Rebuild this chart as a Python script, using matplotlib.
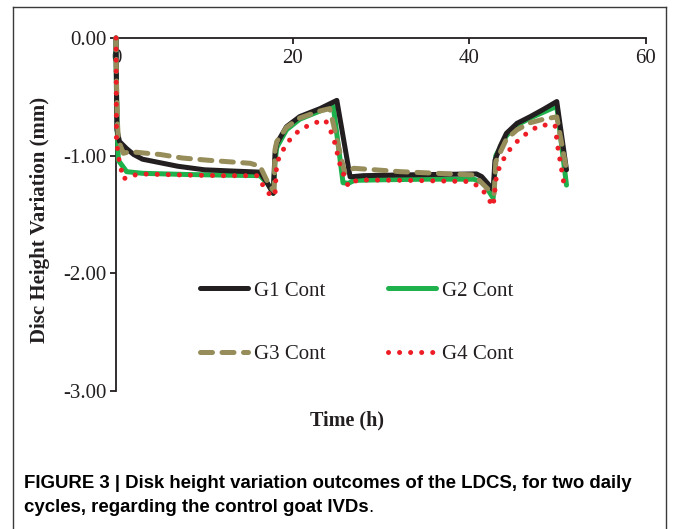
import matplotlib
matplotlib.use('Agg')
import matplotlib.pyplot as plt
from matplotlib.lines import Line2D

# ---------------- data ----------------
g1_t = [0, 0.05, 0.1, 0.4, 1.2, 2, 3, 5, 7, 10, 13, 16.3, 17.1, 17.8, 18.0, 18.2, 19.3, 20.8, 23.1, 25.0,
        26.5, 28, 32.2, 36, 40.8, 41.4, 42.7, 42.9, 43.5, 44.2, 45.4, 46.9, 48.4, 49.9, 51.0]
g1_y = [0, -0.4, -0.78, -0.88, -0.94, -0.99, -1.03, -1.06, -1.09, -1.12, -1.13, -1.14, -1.23, -1.32, -0.98,
        -0.895, -0.754, -0.668, -0.60, -0.53,
        -1.18, -1.17, -1.164, -1.16, -1.155, -1.178, -1.29, -1.04, -0.92, -0.81, -0.725, -0.668, -0.606, -0.54, -1.12]

g2_t = [0, 0.05, 0.15, 0.27, 1.2, 3, 8, 12, 16.3, 17.2, 17.8, 18.0, 18.2, 19.3, 20.8, 23.1, 24.6,
        25.7, 26.3, 27, 30, 35, 40.5, 41.6, 42.7, 43.0, 43.5, 44.2, 45.4, 46.9, 48.4, 49.9, 51.0]
g2_y = [0, -0.4, -0.8, -1.04, -1.136, -1.15, -1.16, -1.165, -1.17, -1.24, -1.32, -1.05, -0.93, -0.78, -0.69,
        -0.62, -0.58,
        -1.23, -1.235, -1.21, -1.205, -1.20, -1.20, -1.23, -1.36, -1.0, -0.93, -0.83, -0.74, -0.68, -0.63, -0.58, -1.25]

g3_t = [0, 0.05, 0.15, 0.27, 0.83, 1.6, 3.5, 5, 7.5, 10.6, 15.2, 16.3, 17.4, 17.9, 18.0, 18.2, 19.3, 20.8,
        23.1, 24.2, 25.9, 26.9, 32.2, 40.5, 42.4, 42.8, 43.0, 44.2, 45.4, 46.9, 48.4, 49.9, 51.0]
g3_y = [0, -0.35, -0.7, -0.87, -0.98, -0.966, -0.98, -0.99, -1.02, -1.04, -1.065, -1.09, -1.26, -1.30, -0.95,
        -0.88, -0.76, -0.68, -0.62, -0.60,
        -1.15, -1.107, -1.136, -1.164, -1.306, -1.33, -1.05, -0.86, -0.78, -0.72, -0.69, -0.67, -1.12]

g4_t = [0, 0.03, 0.05, 0.27, 0.83, 1.5, 3.1, 8, 12, 16, 16.7, 17.6, 18.0, 18.2, 19.3, 20.8, 22.3, 23.7,
        24.6, 25.4, 26.3, 27.3, 33, 40.1, 41.4, 42.0, 42.7, 43.1, 44.2, 45.4, 46.5, 48.0, 49.7, 50.0, 50.8]
g4_y = [0, -0.5, -0.87, -1.01, -1.2, -1.17, -1.156, -1.165, -1.17, -1.17, -1.26, -1.35, -1.33, -1.06,
        -0.895, -0.78, -0.725, -0.697,
        -0.84, -1.09, -1.26, -1.206, -1.21, -1.22, -1.277, -1.35, -1.43, -1.15, -0.98, -0.88, -0.81, -0.74, -0.74,
        -0.92, -1.28]

labels = ['G1 Cont', 'G2 Cont', 'G3 Cont', 'G4 Cont']
x_ticks = [0, 20, 40, 60]
y_ticks = [0, -1, -2, -3]
y_tick_labels = ['0.00', '-1.00', '-2.00', '-3.00']

# ---------------- styling ----------------
W, H = 673, 529
serif = ['Liberation Serif', 'DejaVu Serif']
c_black = '#231f20'
c_green = '#1fb14c'
c_khaki = '#978d5a'
c_red = '#ee1d25'
fs = 15

fig = plt.figure(figsize=(W / 100, H / 100), dpi=100)
fig.patch.set_facecolor('white')
ax = fig.add_axes([116 / W, 1 - 391 / H, 530 / W, 353 / H])

lw = 3.6
l1, = ax.plot(g1_t, g1_y, color=c_black, lw=lw, solid_capstyle='round', solid_joinstyle='round', zorder=5)
l2, = ax.plot(g2_t, g2_y, color=c_green, lw=lw, solid_capstyle='round', solid_joinstyle='round', zorder=4)
l3, = ax.plot(g3_t, g3_y, color=c_khaki, lw=lw, dash_capstyle='round', zorder=6)
l3.set_dashes((2.4, 1.9))
l4, = ax.plot(g4_t, g4_y, color=c_red, lw=lw, dash_capstyle='round', zorder=7)
l4.set_dashes((0.01, 2.2))
for l in (l1, l2, l3, l4):
    l.set_clip_on(False)

ax.set_xlim(0, 60)
ax.set_ylim(-3, 0)
ax.spines['top'].set_visible(False)
ax.spines['right'].set_visible(False)
ax.spines['bottom'].set_position(('data', 0))
for s in ('left', 'bottom'):
    ax.spines[s].set_color(c_black)
    ax.spines[s].set_linewidth(1.3)
    ax.spines[s].set_zorder(3)

ax.set_xticks(x_ticks)
ax.set_xticklabels([str(v) for v in x_ticks])
ax.set_yticks(y_ticks)
ax.set_yticklabels(y_tick_labels)
ax.tick_params(axis='x', direction='out', length=4, width=1.3, color=c_black, pad=4, labelsize=fs,
               labelcolor=c_black)
ax.tick_params(axis='y', direction='out', length=4.5, width=1.3, color=c_black, pad=2, labelsize=fs,
               labelcolor=c_black)
for t in ax.get_xticklabels() + ax.get_yticklabels():
    t.set_fontfamily(serif)

fig.text(40 / W, 1 - 220 / H, 'Disc Height Variation (mm)', rotation=90, ha='center', va='center',
         fontsize=fs, fontweight='bold', family=serif, color=c_black)
fig.text(347 / W, 1 - 420 / H, 'Time (h)', ha='center', va='center',
         fontsize=14.5, fontweight='bold', family=serif, color=c_black)

leg = ax.legend([l1, l3, l2, l4], [labels[0], labels[2], labels[1], labels[3]], ncol=2, loc='center',
                bbox_to_anchor=((356.5 - 116) / 530, (391 - 322.5) / 353), frameon=False,
                prop={'family': serif, 'size': fs}, handlelength=2.3, handletextpad=0.3,
                columnspacing=3.0, labelspacing=2.1, borderpad=0)
for t in leg.get_texts():
    t.set_color(c_black)

# border of the figure panel
bc = '#3a3a3a'
fig.add_artist(Line2D([13 / W, 13 / W], [1 - 7 / H, 0], transform=fig.transFigure, color=bc, lw=1))
fig.add_artist(Line2D([666 / W, 666 / W], [1 - 7 / H, 0], transform=fig.transFigure, color=bc, lw=1))
fig.add_artist(Line2D([13 / W, 666 / W], [1 - 7 / H, 1 - 7 / H], transform=fig.transFigure, color=bc, lw=1))

sans = ['Liberation Sans', 'DejaVu Sans']
cfs = 13.45
fig.text(24 / W, 1 - 488 / H, 'FIGURE 3 | Disk height variation outcomes of the LDCS, for two daily',
         ha='left', va='baseline', fontsize=cfs, fontweight='bold', family=sans, color='black')
cap2 = fig.text(24 / W, 1 - 512 / H, 'cycles, regarding the control goat IVDs',
                ha='left', va='baseline', fontsize=cfs, fontweight='bold', family=sans, color='black')
fig.canvas.draw()
bb = cap2.get_window_extent()
fig.text(bb.x1 / W, 1 - 512 / H, '.', ha='left', va='baseline', fontsize=cfs, family=sans, color='black')

fig.savefig('out.png', dpi=100)
